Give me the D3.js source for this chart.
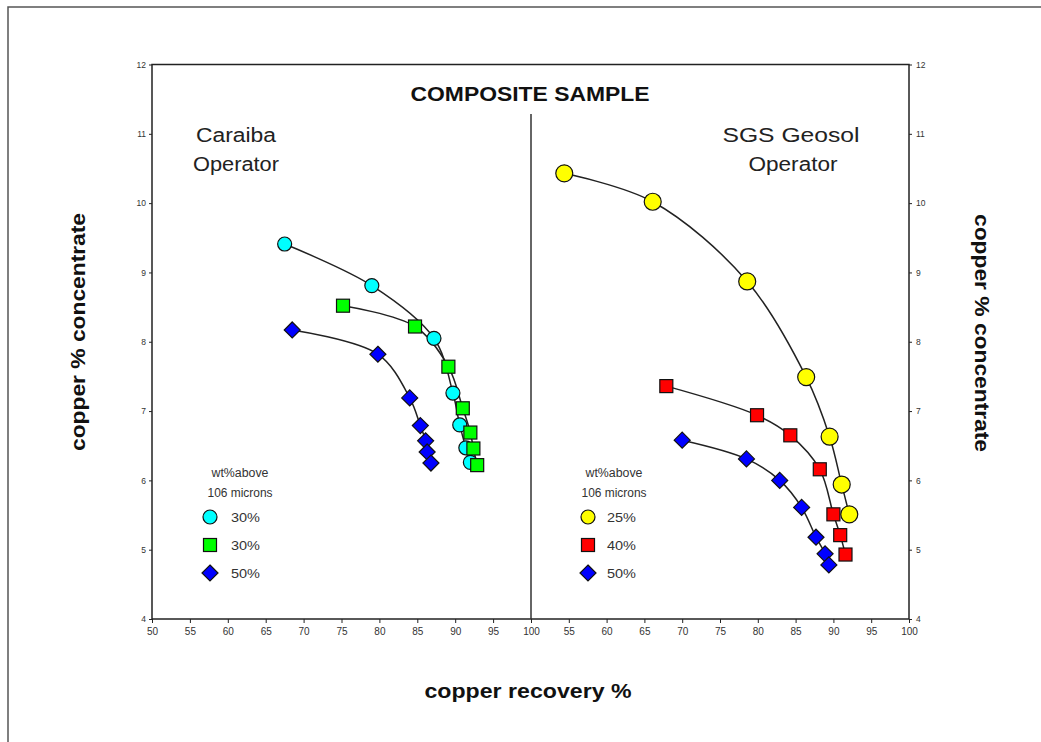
<!DOCTYPE html>
<html><head><meta charset="utf-8">
<script src="https://cdn.jsdelivr.net/npm/d3@7"></script>
<style>body{margin:0;background:#fff}svg{display:block}text{font-family:"Liberation Sans",Arial,sans-serif}</style>
</head><body>
<svg id="c" width="1041" height="742"></svg>
<script>
// ---- data ----
const caraibaCircle = [[67.5,9.41],[79.0,8.81],[87.2,8.05],[89.7,7.26],[90.6,6.80],[91.4,6.47],[92.0,6.26]];
const caraibaSquare = [[75.2,8.52],[84.7,8.22],[89.1,7.64],[91.0,7.04],[92.0,6.69],[92.4,6.46],[92.9,6.22]];
const caraibaDiamond = [[68.5,8.17],[79.8,7.82],[84.0,7.19],[85.4,6.79],[86.1,6.57],[86.3,6.41],[86.8,6.25]];
const sgsCircle = [[54.4,10.43],[66.1,10.02],[78.6,8.87],[86.4,7.49],[89.5,6.63],[91.1,5.94],[92.1,5.51]];
const sgsSquare = [[67.9,7.36],[79.9,6.94],[84.3,6.65],[88.2,6.16],[90.0,5.51],[90.9,5.21],[91.6,4.93]];
const sgsDiamond = [[70.0,6.58],[78.5,6.31],[82.9,6.00],[85.8,5.61],[87.7,5.18],[88.9,4.94],[89.4,4.78]];
const leftLegendLabels = ["30%","30%","50%"];
const rightLegendLabels = ["25%","40%","50%"];
const xTicksLeft = [50,55,60,65,70,75,80,85,90,95,100];
const xTicksRight = [55,60,65,70,75,80,85,90,95,100];
const yTicks = [4,5,6,7,8,9,10,11,12];

const svg = d3.select("#c");
const L = 152, M = 531, R = 909, T = 64.5, B = 619;
const xL = d3.scaleLinear().domain([50,100]).range([L,M]);
const xR = d3.scaleLinear().domain([50,100]).range([M,R]);
const y = d3.scaleLinear().domain([4,12]).range([B,T]);

// outer frame
svg.append("rect").attr("x",8).attr("y",7).attr("width",1100).attr("height",800)
  .attr("fill","none").attr("stroke","#555").attr("stroke-width",1.5);

// plot box
svg.append("rect").attr("x",L).attr("y",T).attr("width",R-L).attr("height",B-T)
  .attr("fill","none").attr("stroke","#222").attr("stroke-width",1.5);
svg.append("line").attr("x1",M).attr("x2",M).attr("y1",114).attr("y2",B)
  .attr("stroke","#333").attr("stroke-width",1.5);

// axes
const tickStyle = g => { g.select(".domain").remove(); g.selectAll("line").attr("stroke","#222");
  g.selectAll("text").attr("fill","#333").style("font-family","'Liberation Sans',Arial,sans-serif"); };
svg.append("g").attr("transform",`translate(0,${B})`)
  .call(d3.axisBottom(xL).tickValues(xTicksLeft).tickSize(4).tickPadding(5))
  .call(tickStyle).selectAll("text").style("font-size","10px");
svg.append("g").attr("transform",`translate(0,${B})`)
  .call(d3.axisBottom(xR).tickValues(xTicksRight).tickSize(4).tickPadding(5))
  .call(tickStyle).selectAll("text").style("font-size","10px");
svg.append("g").attr("transform",`translate(${L},0)`)
  .call(d3.axisLeft(y).tickValues(yTicks).tickSize(3).tickPadding(3))
  .call(tickStyle).selectAll("text").style("font-size","8.5px");
svg.append("g").attr("transform",`translate(${R},0)`)
  .call(d3.axisRight(y).tickValues(yTicks).tickSize(3).tickPadding(4))
  .call(tickStyle).selectAll("text").style("font-size","8.5px");

function txt(x, yy, s, size, len, opts={}){
  const t = svg.append("text").attr("x",x).attr("y",yy).attr("text-anchor","middle")
    .style("font-size",size+"px").attr("fill",opts.fill||"#111")
    .attr("textLength",len).attr("lengthAdjust","spacingAndGlyphs").text(s);
  if(opts.bold) t.style("font-weight","bold");
  if(opts.rot!==undefined) t.attr("x",0).attr("y",0).attr("transform",`translate(${x},${yy}) rotate(${opts.rot})`);
  return t;
}
// titles
txt(530,101,"COMPOSITE SAMPLE",20,239,{bold:true});
txt(528,698,"copper recovery %",20,207,{bold:true});
txt(85,332,"copper % concentrate",20,238,{bold:true,rot:-90});
txt(975,333,"copper % concentrate",20,238,{bold:true,rot:90});
txt(236,142,"Caraiba",20,80,{fill:"#222"});
txt(236,171,"Operator",20,86,{fill:"#222"});
txt(791,142,"SGS Geosol",20,137,{fill:"#222"});
txt(793,171,"Operator",20,89,{fill:"#222"});

// series
const line = d3.line().curve(d3.curveCatmullRom.alpha(0.5));
function marker(g, type, fill, cx, cy, s){
  if(type==="circle") g.append("circle").attr("cx",cx).attr("cy",cy).attr("r",s)
    .attr("fill",fill).attr("stroke","#111").attr("stroke-width",1.2);
  else if(type==="square") g.append("rect").attr("x",cx-s).attr("y",cy-s).attr("width",2*s).attr("height",2*s)
    .attr("fill",fill).attr("stroke","#111").attr("stroke-width",1.2);
  else g.append("path").attr("d",`M${cx},${cy-s}L${cx+s},${cy}L${cx},${cy+s}L${cx-s},${cy}Z`)
    .attr("fill",fill).attr("stroke","#111").attr("stroke-width",1.2);
}
const series = [
  {d:caraibaCircle,x:xL,type:"circle",fill:"#00ffff",s:7},
  {d:caraibaSquare,x:xL,type:"square",fill:"#00ff00",s:6.5},
  {d:caraibaDiamond,x:xL,type:"diamond",fill:"#0000ff",s:8},
  {d:sgsCircle,x:xR,type:"circle",fill:"#ffff00",s:8.5},
  {d:sgsSquare,x:xR,type:"square",fill:"#ff0000",s:6.5},
  {d:sgsDiamond,x:xR,type:"diamond",fill:"#0000ff",s:8}
];
series.forEach(sr=>{
  const pts = sr.d.map(p=>[sr.x(p[0]),y(p[1])]);
  svg.append("path").attr("d",line(pts)).attr("fill","none").attr("stroke","#222").attr("stroke-width",1.5);
});
series.forEach(sr=>{
  const g = svg.append("g");
  sr.d.forEach(p=>marker(g,sr.type,sr.fill,sr.x(p[0]),y(p[1]),sr.s));
});

// legends
function legend(cx, mx, lx, labels, fills){
  txt(cx,477,"wt%above",12,57,{fill:"#333"});
  txt(cx,497,"106 microns",12,65,{fill:"#333"});
  const types=["circle","square","diamond"];
  const ys=[517,545,573];
  types.forEach((t,i)=>{
    marker(svg,t,fills[i],mx,ys[i],t==="diamond"?8:(t==="square"?6.5:7));
    svg.append("text").attr("x",lx).attr("y",ys[i]+5).style("font-size","13px").attr("fill","#333")
      .attr("textLength",29).attr("lengthAdjust","spacingAndGlyphs").text(labels[i]);
  });
}
legend(240,210,231,leftLegendLabels,["#00ffff","#00ff00","#0000ff"]);
legend(614,588,607,rightLegendLabels,["#ffff00","#ff0000","#0000ff"]);
</script>
</body></html>
